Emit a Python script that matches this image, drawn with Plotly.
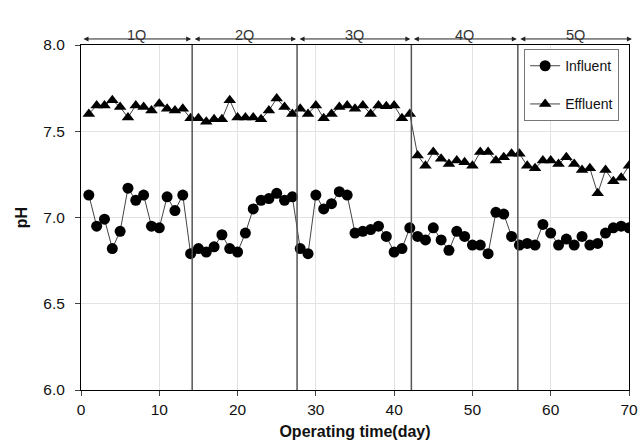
import plotly.graph_objects as go

days = list(range(1, 71))
influent = [7.13, 6.95, 6.99, 6.82, 6.92, 7.17, 7.10, 7.13, 6.95, 6.94,
            7.12, 7.04, 7.13, 6.79, 6.82, 6.80, 6.83, 6.90, 6.82, 6.80,
            6.91, 7.05, 7.10, 7.11, 7.14, 7.10, 7.12, 6.82, 6.79, 7.13,
            7.05, 7.08, 7.15, 7.13, 6.91, 6.92, 6.93, 6.95, 6.89, 6.80,
            6.82, 6.94, 6.89, 6.87, 6.94, 6.87, 6.81, 6.92, 6.89, 6.84,
            6.84, 6.79, 7.03, 7.02, 6.89, 6.84, 6.85, 6.84, 6.96, 6.91,
            6.84, 6.875, 6.84, 6.89, 6.84, 6.85, 6.91, 6.94, 6.95, 6.94]
effluent = [7.60, 7.65, 7.65, 7.68, 7.64, 7.58, 7.65, 7.64, 7.62, 7.66,
            7.63, 7.62, 7.63, 7.575, 7.575, 7.555, 7.57, 7.57, 7.68, 7.58,
            7.58, 7.58, 7.57, 7.62, 7.69, 7.64, 7.60, 7.63, 7.60, 7.65,
            7.575, 7.60, 7.64, 7.65, 7.63, 7.65, 7.60, 7.65, 7.645, 7.65,
            7.575, 7.60, 7.36, 7.30, 7.38, 7.34, 7.31, 7.33, 7.32, 7.30,
            7.38, 7.38, 7.33, 7.35, 7.37, 7.37, 7.30, 7.285, 7.33, 7.33,
            7.31, 7.35, 7.31, 7.275, 7.285, 7.14, 7.275, 7.21, 7.23, 7.30]
phase_labels = ["1Q", "2Q", "3Q", "4Q", "5Q"]
phase_bounds = [0, 14.2, 27.6, 42.2, 55.8, 70.5]
x_ticks = [0, 10, 20, 30, 40, 50, 60, 70]
y_ticks = [6.0, 6.5, 7.0, 7.5, 8.0]

FONT = "Liberation Sans, Arial, sans-serif"

fig = go.Figure()
fig.add_trace(go.Scatter(
    x=days, y=influent, mode="lines+markers", name="Influent",
    line=dict(color="#444444", width=1),
    marker=dict(symbol="circle", size=11, color="black"),
    legendgroup="a"))
fig.add_trace(go.Scatter(
    x=days, y=effluent, mode="lines+markers", name="Effluent",
    line=dict(color="#444444", width=1),
    marker=dict(symbol="triangle-up", size=11, color="black"),
    legendgroup="b"))

for b in phase_bounds[1:-1]:
    fig.add_shape(type="line", x0=b, x1=b, y0=0, y1=1, xref="x", yref="paper",
                  line=dict(color="#555555", width=1.5))

for i, lab in enumerate(phase_labels):
    s, e = phase_bounds[i], phase_bounds[i + 1]
    fig.add_annotation(x=e, y=1.0175, ax=s, ay=0, xref="x", yref="paper",
                       axref="x", ayref="pixel", text="", showarrow=True,
                       arrowhead=2, arrowside="end+start", arrowsize=1,
                       arrowwidth=1, arrowcolor="#222222",
                       standoff=1, startstandoff=1)
    fig.add_annotation(x=(s + e) / 2, y=1.059, xref="x", yref="paper", text=lab,
                       showarrow=False, font=dict(size=14.5, color="#333333", family=FONT))

fig.update_layout(
    width=640, height=440, autosize=False,
    margin=dict(l=81, r=11, t=45, b=50, autoexpand=False),
    paper_bgcolor="white", plot_bgcolor="white",
    font=dict(family=FONT, size=15.5, color="#111111"),
    legend=dict(x=0.982, xanchor="right", y=0.988, yanchor="top",
                bordercolor="#777777", borderwidth=1, bgcolor="white",
                font=dict(size=14), tracegroupgap=17),
)
fig.update_xaxes(range=[0, 70], tickvals=x_ticks, ticks="outside", ticklen=5,
                 showline=True, linecolor="black", linewidth=1, mirror=True,
                 showgrid=True, gridcolor="#e3e3e3", zeroline=False, automargin=False,
                 title=dict(text="<b>Operating time(day)</b>", font=dict(size=16), standoff=10))
fig.update_yaxes(range=[6, 8], tickvals=y_ticks, tickformat=".1f", ticks="outside", ticklen=5,
                 ticklabelstandoff=7,
                 showline=True, linecolor="black", linewidth=1, mirror=True,
                 showgrid=True, gridcolor="#e3e3e3", zeroline=False, automargin=False,
                 title=dict(text="<b>pH</b>", font=dict(size=16), standoff=11))

fig.write_html("out.html", config={"displayModeBar": False},
               post_script=["document.body.style.margin='0px';"])
